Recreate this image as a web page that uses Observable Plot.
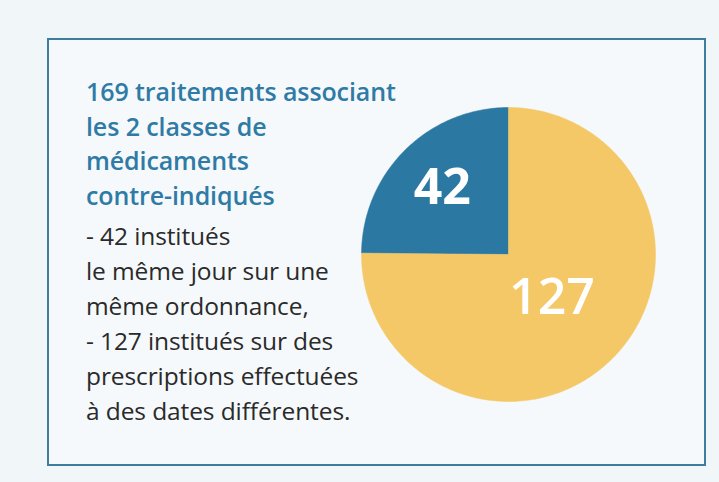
<!DOCTYPE html>
<html>
<head>
<meta charset="utf-8">
<script src="https://cdn.jsdelivr.net/npm/d3@7"></script>
<script src="https://cdn.jsdelivr.net/npm/@observablehq/plot@0.6"></script>
<style>
  html, body { margin: 0; padding: 0; }
  body { width: 719px; height: 482px; background: #f1f6f8; position: relative; overflow: hidden; font-family: "Open Sans", sans-serif; }
  #box { position: absolute; left: 47px; top: 38px; width: 655px; height: 424px; border: 2.5px solid #3f7d9e; background: #f5f9fb; }
  .blk { position: absolute; left: 86px; white-space: nowrap; }
  #title { top: 74px; font-size: 25px; line-height: 34.5px; color: #2f7ba6; font-weight: 600; letter-spacing: -0.1px; }
  #desc { top: 218px; font-size: 24.5px; line-height: 35px; color: #2a2a2a; font-weight: 400; letter-spacing: -0.1px; }
  #pie { position: absolute; left: 353px; top: 99px; }
</style>
</head>
<body>
<div id="box"></div>
<div id="title" class="blk"></div>
<div id="desc" class="blk"></div>
<div id="pie"></div>
<script>
// ---- data ----
const categories = ["Institués le même jour sur une même ordonnance", "Institués sur des prescriptions à des dates différentes"];
const values = [42, 127];
const sliceColors = ["#2b79a2", "#f4c866"];
const titleLines = ["169 traitements associant", "les 2 classes de", "médicaments", "contre-indiqués"];
const descLines = ["- 42 institués", "le même jour sur une", "même ordonnance,", "- 127 institués sur des", "prescriptions effectuées", "à des dates différentes."];

document.getElementById("title").innerHTML = titleLines.map(t => `<div>${t}</div>`).join("");
document.getElementById("desc").innerHTML = descLines.map(t => `<div>${t}</div>`).join("");

// ---- pie geometry (built from the values) ----
const arcs = d3.pie().sort(null).startAngle(0).endAngle(-2 * Math.PI)(values);
const points = [];
arcs.forEach((a, i) => {
  const cat = categories[i];
  points.push({x: 0, y: 0, cat});
  const n = Math.max(2, Math.ceil(Math.abs(a.endAngle - a.startAngle) / (Math.PI / 180)));
  for (let k = 0; k <= n; k++) {
    const t = a.startAngle + (a.endAngle - a.startAngle) * k / n;
    points.push({x: Math.sin(t), y: Math.cos(t), cat});
  }
  points.push({x: 0, y: 0, cat});
});
const labelRadius = [0.64, 0.42];
const labels = arcs.map((a, i) => {
  const m = (a.startAngle + a.endAngle) / 2;
  return {x: labelRadius[i] * Math.sin(m), y: labelRadius[i] * Math.cos(m), text: String(values[i]), i};
});

const R = 155 / 147;
const chart = Plot.plot({
  width: 310,
  height: 310,
  margin: 0,
  style: {background: "transparent", overflow: "visible"},
  x: {domain: [-R, R], axis: null},
  y: {domain: [-R, R], axis: null},
  color: {domain: categories, range: sliceColors},
  marks: [
    Plot.line(points, {x: "x", y: "y", z: "cat", fill: "cat", stroke: "cat", strokeWidth: 0.5, curve: "linear"}),
    Plot.text(labels.filter(d => d.i === 0), {x: "x", y: "y", text: "text", fill: "white", fontSize: 50, fontWeight: 700, fontFamily: "Open Sans"}),
    Plot.text(labels.filter(d => d.i === 1), {x: "x", y: "y", text: "text", fill: "white", fontSize: 50, fontWeight: 600, fontFamily: "Open Sans"})
  ]
});
document.getElementById("pie").appendChild(chart);
</script>
</body>
</html>
